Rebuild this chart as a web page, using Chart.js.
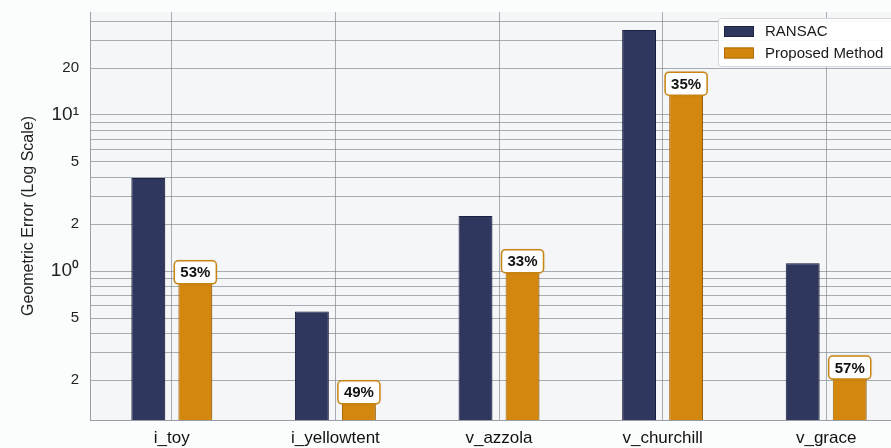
<!DOCTYPE html>
<html>
<head>
<meta charset="utf-8">
<script src="https://cdn.jsdelivr.net/npm/chart.js@4.4.1/dist/chart.umd.min.js"></script>
<style>
html, body { margin: 0; padding: 0; background: #fbfcfc; }
#wrap { width: 891px; height: 448px; overflow: hidden; }
canvas { display: block; }
</style>
</head>
<body>
<div id="wrap"><canvas id="mycanvas" width="912" height="448"></canvas></div>
<script>
// scenes and errors
var scenes = ['i_toy', 'i_yellowtent', 'v_azzola', 'v_churchill', 'v_grace'];
var ransacError = [3.95, 0.55, 2.25, 35.0, 1.12];
var proposedError = [0.84, 0.143, 0.99, 13.6, 0.206];
var reduction = [53, 49, 33, 35, 57];

// log axis grid + labelled ticks
var yGridValues = [0.2, 0.3, 0.4, 0.5, 0.6, 0.7, 0.8, 0.9, 1, 2, 3, 4, 5, 6, 7, 8, 9, 10, 20, 30, 40];
var yTickValues = [0.2, 0.5, 1, 2, 5, 10, 20];
var yTickLabels = ['2', '5', '10\u2070', '2', '5', '10\u00b9', '20'];

var FONT = '"Liberation Sans", Arial, Helvetica, sans-serif';
var navy = '#30375f';
var orange = '#d4870f';

var plotBg = {
    id: 'plotBg',
    beforeDraw: function(chart) {
        var a = chart.chartArea, ctx = chart.ctx;
        ctx.save();
        ctx.fillStyle = '#f4f6f8';
        ctx.fillRect(a.left, a.top, a.right - a.left, a.bottom - a.top);
        ctx.restore();
    }
};

var barShadow = {
    id: 'barShadow',
    beforeDatasetsDraw: function(chart) {
        var ctx = chart.ctx;
        ctx.save();
        ctx.shadowColor = 'rgba(0,0,0,0.25)';
        ctx.shadowBlur = 5;
        ctx.shadowOffsetX = 2;
        ctx.shadowOffsetY = 1;
    },
    afterDatasetsDraw: function(chart) {
        chart.ctx.restore();
    }
};

// percentage badges on top of the proposed bars
var badges = {
    id: 'badges',
    afterDatasetsDraw: function(chart) {
        var ctx = chart.ctx;
        var meta = chart.getDatasetMeta(1);
        ctx.save();
        ctx.font = 'bold 15px ' + FONT;
        ctx.textAlign = 'center';
        ctx.textBaseline = 'middle';
        meta.data.forEach(function(bar, i) {
            var text = reduction[i] + '%';
            var w = ctx.measureText(text).width + 12, h = 23;
            var x = bar.x - w / 2, y = bar.y - h + 1;
            ctx.shadowColor = 'rgba(0,0,0,0.15)';
            ctx.shadowBlur = 3;
            ctx.beginPath();
            ctx.roundRect(x, y, w, h, 4);
            ctx.fillStyle = '#ffffff';
            ctx.fill();
            ctx.shadowColor = 'transparent';
            ctx.lineWidth = 1.5;
            ctx.strokeStyle = '#c98512';
            ctx.stroke();
            ctx.fillStyle = '#111';
            ctx.fillText(text, bar.x, y + h / 2 + 1);
        });
        ctx.restore();
    }
};

var boxLegend = {
    id: 'boxLegend',
    afterDraw: function(chart) {
        var ctx = chart.ctx;
        var x0 = 718, y0 = 18;
        ctx.save();
        ctx.fillStyle = 'rgba(255,255,255,0.92)';
        ctx.strokeStyle = '#d4d7dc';
        ctx.lineWidth = 1;
        ctx.beginPath();
        ctx.roundRect(x0 + 0.5, y0 + 0.5, 200, 48, 3);
        ctx.fill();
        ctx.stroke();
        ctx.font = '15px ' + FONT;
        ctx.textBaseline = 'middle';
        chart.data.datasets.forEach(function(ds, i) {
            var cy = y0 + 13 + i * 21.5;
            ctx.fillStyle = ds.backgroundColor;
            ctx.fillRect(x0 + 6, cy - 5, 30, 11);
            ctx.strokeStyle = ds.borderColor;
            ctx.strokeRect(x0 + 6.5, cy - 4.5, 29, 10);
            ctx.fillStyle = '#1a1a1a';
            ctx.fillText(ds.label, x0 + 47, cy + 1);
        });
        ctx.restore();
    }
};

var gridColor = 'rgba(120,125,138,0.62)';

var ctx = document.getElementById('mycanvas');
var chart = new Chart(ctx, {
    type: 'bar',
    data: {
        labels: scenes,
        datasets: [
            {
                label: 'RANSAC',
                data: ransacError,
                backgroundColor: navy,
                borderColor: '#1e2444',
                borderWidth: 1,
                categoryPercentage: 0.575,
                barPercentage: 0.72
            },
            {
                label: 'Proposed Method',
                data: proposedError,
                backgroundColor: orange,
                borderColor: '#b06d08',
                borderWidth: 1,
                categoryPercentage: 0.575,
                barPercentage: 0.72
            }
        ]
    },
    options: {
        responsive: false,
        animation: false,
        layout: { padding: { top: 12, right: 4, left: 0, bottom: 0 } },
        plugins: { legend: { display: false }, tooltip: { enabled: false } },
        scales: {
            x: {
                grid: { offset: false, color: gridColor, drawTicks: false },
                border: { color: '#9a9ea8' },
                ticks: { font: { family: FONT, size: 17 }, color: '#111', padding: 8 },
                afterFit: function(s) {
                    s.height = 28;
                    s.paddingLeft = 0;
                    s.paddingRight = 0;
                }
            },
            y: {
                type: 'logarithmic',
                min: 0.111,
                max: 45.7,
                afterBuildTicks: function(s) {
                    s.ticks = yGridValues.map(function(v) { return { value: v }; });
                },
                ticks: {
                    autoSkip: false,
                    padding: 11,
                    color: '#222',
                    callback: function(v) {
                        var k = yTickValues.indexOf(v);
                        return k < 0 ? '' : yTickLabels[k];
                    },
                    font: function(c) {
                        var big = c.tick && (c.tick.value === 1 || c.tick.value === 10);
                        return { family: FONT, size: big ? 19 : 15 };
                    }
                },
                grid: { color: gridColor, drawTicks: false },
                border: { color: '#9a9ea8' },
                title: {
                    display: true,
                    text: 'Geometric Error (Log Scale)',
                    color: '#222',
                    font: { family: FONT, size: 16 },
                    padding: { top: 19, bottom: 0 }
                },
                afterFit: function(s) {
                    s.width = 90;
                    s.paddingTop = 0;
                    s.paddingBottom = 0;
                }
            }
        }
    },
    plugins: [plotBg, barShadow, badges, boxLegend]
});
</script>
</body>
</html>
